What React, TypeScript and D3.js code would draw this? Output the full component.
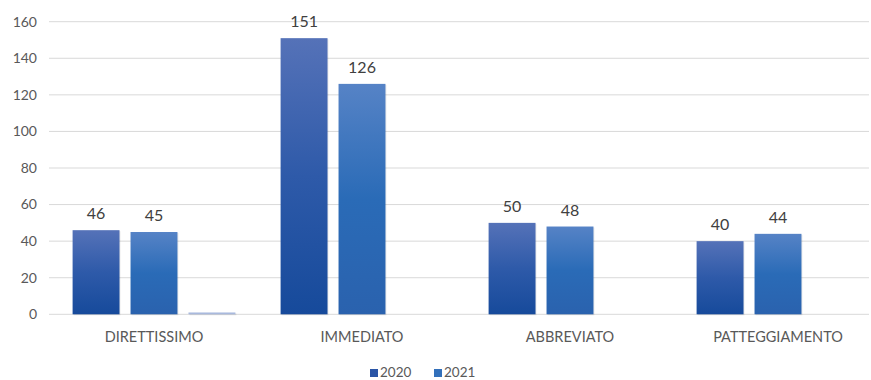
import React from 'react';
import * as d3 from 'd3';

const categories = ['DIRETTISSIMO', 'IMMEDIATO', 'ABBREVIATO', 'PATTEGGIAMENTO'];
const series = ['2020', '2021', ''];
const values2020 = [46, 151, 50, 40];
const values2021 = [45, 126, 48, 44];
const valuesExtra = [1, 0, 0, 0];
const yTicks = [0, 20, 40, 60, 80, 100, 120, 140, 160];

const W = 871;
const H = 380;
const FONT = 'Lato, "Open Sans", sans-serif';

export default function App() {
  const x = d3.scaleBand<string>().domain(categories).range([50, 882]).padding(0);
  const xInner = d3
    .scaleBand<string>()
    .domain(['a', 'b', 'c'])
    .range([0, x.bandwidth()])
    .paddingInner(0.19)
    .paddingOuter(0.39);
  const y = d3.scaleLinear().domain([0, 160]).range([314.3, 21.7]);

  const rows = [
    { key: 'a', data: values2020, fill: 'url(#g2020)', label: true },
    { key: 'b', data: values2021, fill: 'url(#g2021)', label: true },
    { key: 'c', data: valuesExtra, fill: '#a9b9dd', label: false },
  ];

  return (
    <div style={{ position: 'absolute', left: 0, top: 0 }}>
      <svg width={W} height={H} style={{ display: 'block', background: '#fff' }} fontFamily={FONT}>
        <defs>
          <linearGradient id="g2020" x1="0" y1="0" x2="0" y2="1">
            <stop offset="0%" stopColor="#5572b8" />
            <stop offset="50%" stopColor="#2e5aa9" />
            <stop offset="100%" stopColor="#164a9b" />
          </linearGradient>
          <linearGradient id="g2021" x1="0" y1="0" x2="0" y2="1">
            <stop offset="0%" stopColor="#5683c6" />
            <stop offset="50%" stopColor="#2a6bb7" />
            <stop offset="100%" stopColor="#2a62ae" />
          </linearGradient>
        </defs>

        {/* gridlines + y labels */}
        {yTicks.map((t) => (
          <g key={t}>
            <line x1={49} x2={869} y1={y(t)} y2={y(t)} stroke="#d9d9d9" strokeWidth={1} />
            <text x={37} y={y(t)} dy="0.35em" textAnchor="end" fontSize={14} fill="#595959">
              {t}
            </text>
          </g>
        ))}

        {/* bars */}
        {rows.map((r) =>
          categories.map((c, i) => {
            const v = r.data[i];
            if (!v) return null;
            const bx = (x(c) ?? 0) + (xInner(r.key) ?? 0);
            const bw = xInner.bandwidth();
            return (
              <g key={r.key + c}>
                <rect x={bx + 1} y={y(v) + 1} width={bw} height={y(0) - y(v)} fill="#000" opacity={0.08} />
                <rect x={bx} y={y(v)} width={bw} height={y(0) - y(v)} fill={r.fill} />
                {r.label && (
                  <text x={bx + bw / 2} y={y(v) - 11} textAnchor="middle" fontSize={16} fill="#404040">
                    {v}
                  </text>
                )}
              </g>
            );
          })
        )}

        {/* category labels */}
        {categories.map((c) => (
          <text
            key={c}
            x={(x(c) ?? 0) + (xInner('b') ?? 0) + xInner.bandwidth() / 2}
            y={337}
            dy="0.35em"
            textAnchor="middle"
            fontSize={14.5}
            fill="#595959"
          >
            {c}
          </text>
        ))}

        {/* legend */}
        {series.slice(0, 2).map((s, i) => (
          <g key={s} transform={`translate(${370 + i * 64}, 372)`}>
            <rect x={0} y={-3} width={8} height={8} fill={i === 0 ? '#2a55a6' : '#3370ba'} />
            <text x={10} y={0} dy="0.35em" fontSize={13.5} fill="#595959">
              {s}
            </text>
          </g>
        ))}
      </svg>
    </div>
  );
}
